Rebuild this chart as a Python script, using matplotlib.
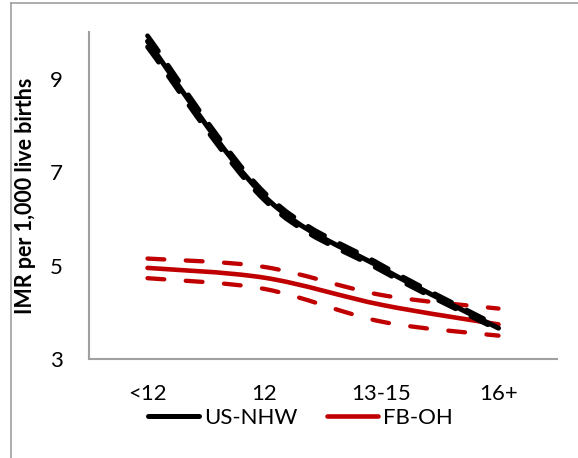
import numpy as np
import matplotlib.pyplot as plt
from matplotlib.path import Path
from matplotlib.patches import PathPatch
from matplotlib.lines import Line2D

plt.rcParams["font.family"] = ["Lato", "DejaVu Sans"]

categories = ["<12", "12", "13-15", "16+"]

us_nhw = [9.80, 6.48, 4.95, 3.66]
us_nhw_hi = [9.92, 6.56, 5.01, 3.70]
us_nhw_lo = [9.68, 6.40, 4.89, 3.62]

fb_oh = [4.95, 4.74, 4.16, 3.74]
fb_oh_hi = [5.15, 4.97, 4.37, 4.08]
fb_oh_lo = [4.73, 4.50, 3.80, 3.50]

black = "#000000"
red = "#C00000"
grey = "#A0A0A0"


def smooth_path(y):
    # Excel-style smoothed line: cubic Bezier segments through the points
    x = np.arange(len(y), dtype=float)
    y = np.asarray(y, dtype=float)
    pts = np.column_stack([x, y])
    verts = [pts[0]]
    codes = [Path.MOVETO]
    n = len(pts)
    for i in range(n - 1):
        p0 = pts[i - 1] if i > 0 else pts[i]
        p1 = pts[i]
        p2 = pts[i + 1]
        p3 = pts[i + 2] if i + 2 < n else pts[i + 1]
        c1 = p1 + (p2 - p0) / 6.0
        c2 = p2 - (p3 - p1) / 6.0
        verts += [c1, c2, p2]
        codes += [Path.CURVE4] * 3
    return Path(verts, codes)


fig = plt.figure(figsize=(5.78, 4.58), dpi=100)
ax = fig.add_axes([89 / 578, 1 - 359 / 458, (557 - 89) / 578, (359 - 32) / 458])

def draw(y, color, lw, ls, z):
    patch = PathPatch(smooth_path(y), facecolor="none", edgecolor=color,
                      lw=lw, linestyle=ls, capstyle="round", joinstyle="round", zorder=z)
    ax.add_patch(patch)

draw(fb_oh_hi, red, 3.1, (0, (3.9, 5.0)), 2)
draw(fb_oh_lo, red, 3.1, (0, (3.9, 5.0)), 2)
draw(fb_oh, red, 3.3, "-", 2)
draw(us_nhw_hi, black, 3.4, (0, (4.0, 3.6)), 3)
draw(us_nhw_lo, black, 3.4, (0, (4.0, 3.6)), 3)
draw(us_nhw, black, 3.6, "-", 3)

ax.set_xlim(-0.5, 3.5)
ax.set_ylim(3, 10)
ax.set_xticks(range(len(categories)))
ax.set_xticklabels(categories)
ax.set_yticks([3, 5, 7, 9])
ax.tick_params(length=0, labelsize=16, pad=18)
ax.tick_params(axis="y", pad=19)
for s in ["top", "right"]:
    ax.spines[s].set_visible(False)
for s in ["left", "bottom"]:
    ax.spines[s].set_color(grey)
    ax.spines[s].set_linewidth(1.5)
ax.set_ylabel("IMR per 1,000 live births", fontsize=15.5, fontweight="bold")
ax.yaxis.set_label_coords(-(89 - 36) / 468, 0.5)

handles = [Line2D([], [], color=black, lw=3.6, solid_capstyle="round"),
           Line2D([], [], color=red, lw=3.3, solid_capstyle="round")]
fig.legend(handles, ["US-NHW", "FB-OH"], loc="center", bbox_to_anchor=(0.52, 1 - 418 / 458),
           ncol=2, frameon=False, fontsize=16, handlelength=2.3, handletextpad=0.25,
           columnspacing=1.3)

# chart area border (cropped on the right and bottom)
fig.add_artist(Line2D([10.5 / 578, 10.5 / 578], [0, 1 - 2.5 / 458], color=grey, lw=1.2))
fig.add_artist(Line2D([10.5 / 578, 1], [1 - 2.5 / 458, 1 - 2.5 / 458], color=grey, lw=1.2))

fig.savefig("out.png", dpi=100)
